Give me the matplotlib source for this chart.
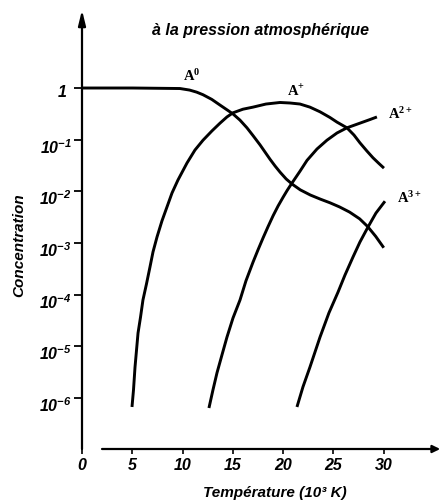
import matplotlib
matplotlib.use('Agg')
import matplotlib.pyplot as plt
from matplotlib.ticker import NullLocator
from matplotlib.transforms import ScaledTranslation

plt.rcParams['font.family'] = ['Liberation Sans', 'DejaVu Sans']
plt.rcParams['mathtext.fontset'] = 'custom'
plt.rcParams['mathtext.rm'] = 'Liberation Sans:italic:bold'
plt.rcParams['mathtext.it'] = 'Liberation Sans:italic:bold'
plt.rcParams['mathtext.bf'] = 'Liberation Serif:bold'

# ---- data (T in 10^3 K, log10 of concentration) ----
T_A0 = [0, 5, 9.74, 10.7, 11.4, 12.03, 12.9, 13.72, 14.4, 15.0, 15.7, 16.4, 17.0, 17.7, 18.2, 18.7,
        19.2, 19.7, 20.3, 20.9, 21.7, 22.7, 23.7, 24.65, 25.6, 26.6, 27.6, 28.4, 29.2, 30.0]
logC_A0 = [0, 0, -0.01, -0.04, -0.08, -0.13, -0.22, -0.33, -0.42, -0.50, -0.62, -0.77, -0.92, -1.10, -1.24, -1.38,
           -1.51, -1.63, -1.76, -1.86, -1.97, -2.07, -2.15, -2.22, -2.30, -2.40, -2.53, -2.68, -2.87, -3.09]

T_A1 = [4.97, 5.12, 5.27, 5.57, 5.82, 6.06, 6.41, 6.76, 7.06, 7.46, 7.95, 8.45, 8.95, 9.54, 10.44,
        11.23, 12.03, 12.92, 13.72, 14.41, 15.01, 16.0, 17.0, 18.29, 19.68, 20.68, 21.67, 22.66,
        23.66, 24.65, 25.35, 26.34, 27.04, 27.63, 28.33, 28.93, 29.52, 30.02]
logC_A1 = [-6.17, -5.84, -5.40, -4.74, -4.43, -4.10, -3.79, -3.46, -3.17, -2.88, -2.57, -2.30, -2.03, -1.78, -1.45,
           -1.20, -1.01, -0.83, -0.68, -0.56, -0.48, -0.41, -0.37, -0.31, -0.28, -0.29, -0.31, -0.37,
           -0.46, -0.57, -0.66, -0.77, -0.91, -1.06, -1.22, -1.35, -1.46, -1.55]

T_A2 = [12.62, 13.02, 13.42, 13.92, 14.41, 15.01, 15.71, 16.30, 17.0, 17.5, 18.0, 18.5, 19.0,
        19.5, 20.0, 20.4, 20.87, 21.67, 22.37, 23.36, 24.35, 25.35, 26.34, 27.63, 28.63, 29.32]
logC_A2 = [-6.19, -5.84, -5.51, -5.16, -4.82, -4.45, -4.10, -3.73, -3.37, -3.13, -2.90, -2.68, -2.47,
           -2.28, -2.11, -1.98, -1.84, -1.61, -1.40, -1.18, -1.01, -0.87, -0.77, -0.68, -0.61, -0.56]

T_A3 = [21.37, 21.97, 22.66, 23.16, 23.66, 24.55, 25.45, 26.14, 26.94, 27.63, 28.43, 29.22, 30.12]
logC_A3 = [-6.17, -5.78, -5.40, -5.11, -4.82, -4.35, -3.95, -3.62, -3.27, -2.98, -2.69, -2.42, -2.19]

series_labels = [r'$\mathbf{A}^{\mathbf{0}}$', r'$\mathbf{A}^{\mathbf{+}}$',
                 r'$\mathbf{A}^{\mathbf{2+}}$', r'$\mathbf{A}^{\mathbf{3+}}$']
label_T = [10.0, 20.4, 30.4, 31.3]
label_logC = [0.13, -0.14, -0.60, -2.22]

x_ticks = [0, 5, 10, 15, 20, 25, 30]
x_tick_labels = ['0', '5', '10', '15', '20', '25', '30']
y_ticks = [1, 1e-1, 1e-2, 1e-3, 1e-4, 1e-5, 1e-6]
y_tick_labels = [r'$1$', r'$10^{-1}$', r'$10^{-2}$', r'$10^{-3}$', r'$10^{-4}$', r'$10^{-5}$', r'$10^{-6}$']

title = 'à la pression atmosphérique'
x_label = 'Température (10³ K)'
y_label = 'Concentration'

# ---- figure ----
fig = plt.figure(figsize=(4.42, 5.03), dpi=100)
ax = fig.add_axes([82 / 442, 54 / 503, 360 / 442, 439 / 503])
ax.set_yscale('log')
ax.set_xlim(0, 35.79)
ax.set_ylim(10 ** -6.983, 10 ** 1.509)

for T, L in [(T_A0, logC_A0), (T_A1, logC_A1), (T_A2, logC_A2), (T_A3, logC_A3)]:
    ax.plot(T, [10 ** v for v in L], color='black', lw=2.1,
            solid_capstyle='butt', solid_joinstyle='round')

for s, t, l in zip(series_labels, label_T, label_logC):
    ax.text(t, 10 ** l, s, fontsize=10.5, ha='left', va='baseline', color='black')

for sp in ax.spines.values():
    sp.set_visible(False)

# axes drawn as arrows
ax.annotate('', xy=(0, 1), xytext=(0, 0), xycoords='axes fraction',
            arrowprops=dict(arrowstyle='-|>,head_length=0.9,head_width=0.22',
                            lw=1.6, color='black', shrinkA=0, shrinkB=0))
ax.annotate('', xy=(0.995, 0), xytext=(20 / 360, 0), xycoords='axes fraction',
            arrowprops=dict(arrowstyle='-|>,head_length=0.45,head_width=0.22',
                            lw=1.6, color='black', shrinkA=0, shrinkB=0))

ax.set_xticks(x_ticks)
ax.set_xticklabels(x_tick_labels, fontsize=11.5, fontstyle='italic', fontweight='bold')
ax.set_yticks(y_ticks)
ax.set_yticklabels(y_tick_labels, fontsize=11.5)
ax.yaxis.set_minor_locator(NullLocator())
ax.tick_params(axis='x', direction='out', length=3.6, width=1.2, pad=3.0)
ax.tick_params(axis='y', direction='out', length=5.8, width=1.3, pad=1.5)

for i, lab in enumerate(ax.get_yticklabels()):
    lab.set_va('baseline')
    dx, dy = (-5, -9) if i == 0 else (0, -14)
    lab.set_transform(lab.get_transform() + ScaledTranslation(dx / 100, dy / 100, fig.dpi_scale_trans))

fig.text(260 / 442, 1 - 31 / 503, title, ha='center', va='center',
         fontsize=11.5, fontstyle='italic', fontweight='bold')
fig.text(19 / 442, 1 - 245 / 503, y_label, ha='center', va='center', rotation=90,
         fontsize=11, fontstyle='italic', fontweight='bold')
fig.text(275 / 442, 1 - 493 / 503, x_label, ha='center', va='center',
         fontsize=11, fontstyle='italic', fontweight='bold')

fig.savefig('out.png', dpi=100)
